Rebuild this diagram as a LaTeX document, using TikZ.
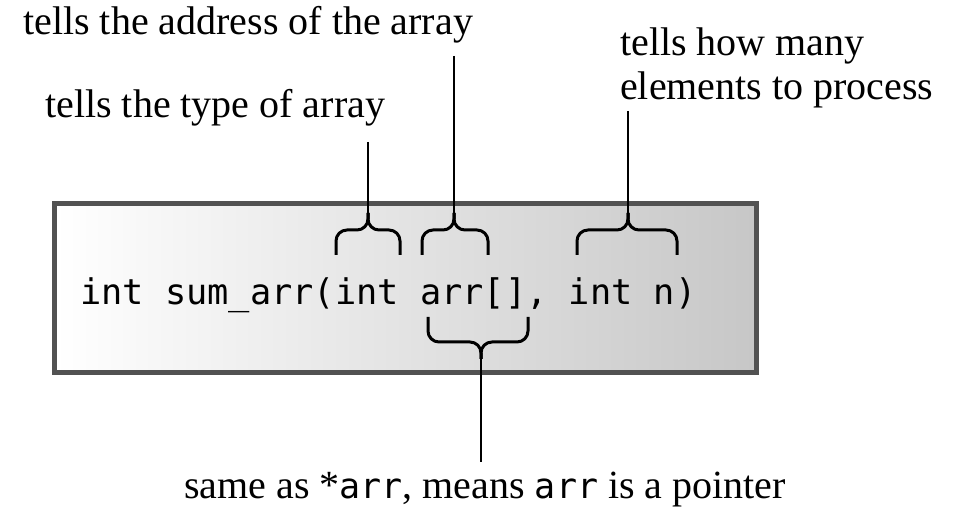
\documentclass[tikz,border=0pt]{standalone}
\usepackage{fontspec}
\setmainfont{Liberation Serif}
\setmonofont{DejaVu Sans Mono}
\begin{document}
\begin{tikzpicture}[x=1pt,y=1pt,
  label/.style={inner sep=0pt, font=\fontsize{40}{44}\selectfont},
  codebox/.style={draw=black!68, line width=5pt, left color=white, right color=black!22},
  bracestyle/.style={line width=3pt, rounded corners=11pt, line cap=butt},
  conn/.style={line width=2.8pt}]
\useasboundingbox (0,0) rectangle (959,513);
% box
\draw[codebox] (54,140) rectangle (756,309);
\node[anchor=base west, inner sep=0pt, font=\fontsize{35.3}{40}\ttfamily] (code) at (80,208) {int sum\_arr(int arr[], int n)};
% labels
\node[label, anchor=base west] (addr) at (23,478) {tells the address of the array};
\node[label, anchor=base west] (type) at (45,395) {tells the type of array};
\node[label, anchor=base west] (howa) at (620,457) {tells how many};
\node[label, anchor=base west] (howb) at (620,413) {elements to process};
\node[label, anchor=base] (ptr) at (485,14) {same as *{\ttfamily\fontsize{35}{40}\selectfont arr}, means {\ttfamily\fontsize{35}{40}\selectfont arr} is a pointer};
% braces
\coordinate (t1) at (368,300);
\coordinate (t2) at (454,300);
\coordinate (t3) at (628,300);
\coordinate (t4) at (481,154);
\draw[bracestyle] (336,258) -- (336,283) -- (368,283) -- (t1);
\draw[bracestyle] (400,258) -- (400,283) -- (368,283) -- (t1);
\draw[bracestyle] (422,258) -- (422,283) -- (454,283) -- (t2);
\draw[bracestyle] (488,258) -- (488,283) -- (454,283) -- (t2);
\draw[bracestyle] (577,258) -- (577,283) -- (628,283) -- (t3);
\draw[bracestyle] (677,258) -- (677,283) -- (628,283) -- (t3);
\draw[bracestyle] (428,196) -- (428,171) -- (481,171) -- (t4);
\draw[bracestyle] (528,196) -- (528,171) -- (481,171) -- (t4);
% connector ends
\coordinate (e1) at (368,371);
\coordinate (e2) at (454,457);
\coordinate (e3) at (628,402);
\coordinate (e4) at (481,51);
\draw[conn] (e1) -- (t1);
\draw[conn] (e2) -- (t2);
\draw[conn] (e3) -- (t3);
\draw[conn] (e4) -- (t4);
\end{tikzpicture}
\end{document}
